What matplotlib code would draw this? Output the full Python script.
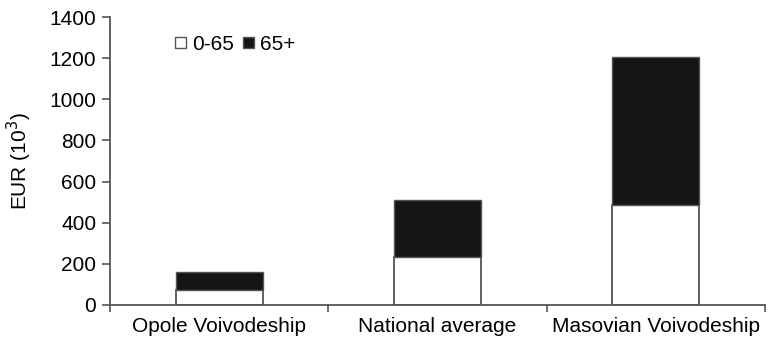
import matplotlib
matplotlib.use("Agg")
import matplotlib.pyplot as plt
from matplotlib.patches import Patch

categories = ["Opole Voivodeship", "National average", "Masovian Voivodeship"]
under65 = [73, 232, 486]
over65 = [89, 278, 721]
yticks = [0, 200, 400, 600, 800, 1000, 1200, 1400]

plt.rcParams['font.family'] = ['Liberation Sans', 'DejaVu Sans']

fig = plt.figure(figsize=(7.76, 3.43), dpi=100)
ax = fig.add_axes([0.1418, 0.1108, 0.8440, 0.8396])

grey = "#555555"
x = list(range(len(categories)))
ax.bar(x, under65, width=0.4, color="white", edgecolor=grey, linewidth=1.3, label="0-65")
ax.bar(x, over65, width=0.4, bottom=under65, color="#151515", edgecolor=grey, linewidth=1.0, label="65+")

fs = 15
ax.set_xlim(-0.5, 2.5)
ax.set_ylim(0, 1400)
ax.set_yticks(yticks)
ax.set_xticks(x)
ax.set_xticklabels(categories, fontsize=fs)
ax.set_xticks([-0.5, 0.5, 1.5, 2.5], minor=True)
ax.tick_params(axis='x', which='major', length=0, pad=9)
ax.tick_params(axis='x', which='minor', length=5, direction='out', color=grey, width=1.2)
ax.tick_params(axis='y', labelsize=fs, length=6, color=grey, width=1.2, pad=4)
for s in ["top", "right"]:
    ax.spines[s].set_visible(False)
for s in ["left", "bottom"]:
    ax.spines[s].set_color(grey)
    ax.spines[s].set_linewidth(1.3)
ax.set_ylabel("EUR (10$^3$)", fontsize=fs, labelpad=11)

handles = [Patch(facecolor="white", edgecolor=grey, linewidth=1.0),
           Patch(facecolor="#151515", edgecolor=grey, linewidth=1.0)]
ax.legend(handles, ["0-65", "65+"], ncol=2, frameon=False, fontsize=fs,
          handlelength=0.5, handleheight=0.5, handletextpad=0.3, columnspacing=0.45,
          loc="center left", bbox_to_anchor=(0.087, 0.905), borderaxespad=0)

fig.savefig("out.png", dpi=100)
